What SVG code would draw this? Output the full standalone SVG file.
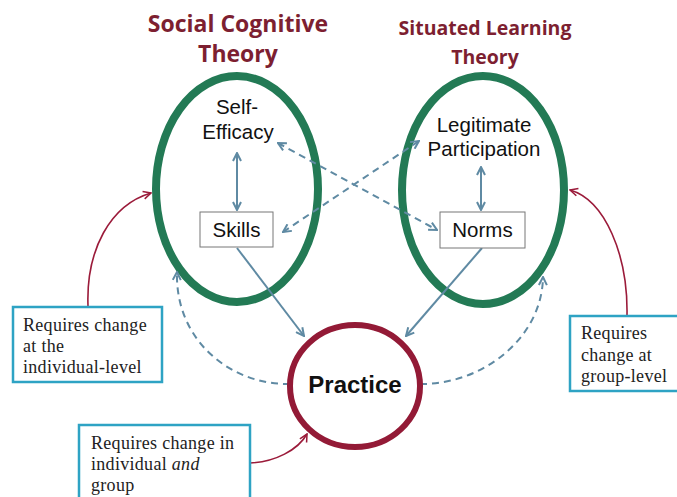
<svg xmlns="http://www.w3.org/2000/svg" width="677" height="497" viewBox="0 0 677 497">
<style>
.title{font-family:"Open Sans","Liberation Sans",sans-serif;font-weight:bold;fill:#7d1f31;text-anchor:middle}
.lbl{font-family:"Liberation Sans",Arial,sans-serif;font-size:20.5px;fill:#111;text-anchor:middle}
.note{font-family:"Liberation Serif","DejaVu Serif",serif;font-size:18px;letter-spacing:0.3px;fill:#222}
.theory{fill:none;stroke:#237a55;stroke-width:8}
.box{fill:#fff;stroke:#777;stroke-width:1}
.nbox{fill:#fff;stroke:#2ea3c4;stroke-width:2.5}
.conn{fill:none;stroke:#5f8aa3;stroke-width:2}
.dash{stroke-dasharray:7 5}
.red{fill:none;stroke:#9b1b3a;stroke-width:1.6}
</style>
<defs>
<marker id="ab" viewBox="0 0 10 10" refX="9" refY="5" markerWidth="5" markerHeight="5" orient="auto-start-reverse"><path d="M1 1 L9 5 L1 9" fill="none" stroke="#5f8aa3" stroke-width="2"/></marker>
<marker id="ar" viewBox="0 0 10 10" refX="9" refY="5" markerWidth="6" markerHeight="6" orient="auto"><path d="M1 1 L9 5 L1 9" fill="none" stroke="#9b1b3a" stroke-width="1.6"/></marker>
</defs>
<rect width="677" height="497" fill="#fff"/>
<g id="titles">
<text class="title" x="238" y="32" font-size="23">Social Cognitive</text>
<text class="title" x="238" y="62" font-size="23">Theory</text>
<text class="title" x="485" y="35" font-size="19.5">Situated Learning</text>
<text class="title" x="485" y="64" font-size="19.5">Theory</text>
</g>
<g id="social-cognitive">
<ellipse class="theory" cx="237" cy="189" rx="81" ry="113"/>
</g>
<g id="situated-learning">
<ellipse class="theory" cx="483" cy="190" rx="81" ry="114"/>
</g>
<g id="connectors">
<line class="conn" x1="237" y1="153" x2="237" y2="210" marker-start="url(#ab)" marker-end="url(#ab)"/>
<line class="conn" x1="481" y1="167" x2="481" y2="210" marker-start="url(#ab)" marker-end="url(#ab)"/>
<line class="conn dash" x1="278" y1="143" x2="437" y2="230" marker-start="url(#ab)" marker-end="url(#ab)"/>
<line class="conn dash" x1="283" y1="232" x2="419" y2="141" marker-start="url(#ab)" marker-end="url(#ab)"/>
<line class="conn" x1="237" y1="248" x2="304" y2="336" marker-end="url(#ab)"/>
<line class="conn" x1="482" y1="248" x2="406" y2="336" marker-end="url(#ab)"/>
<path class="conn dash" d="M290 384 C 230 385, 175 340, 177 272" marker-end="url(#ab)"/>
<path class="conn dash" d="M420 384 C 480 385, 542 340, 543 277" marker-end="url(#ab)"/>
<path class="red" d="M88 306 C 86 250, 110 205, 151 193" marker-end="url(#ar)"/>
<path class="red" d="M627 315 C 628 255, 605 200, 570 190" marker-end="url(#ar)"/>
<path class="red" d="M250 463 C 275 462, 298 450, 307 434" marker-end="url(#ar)"/>
</g>
<g id="self-efficacy">
<text class="lbl" x="237" y="114">Self-</text>
<text class="lbl" x="238" y="139">Efficacy</text>
</g>
<g id="legitimate-participation">
<text class="lbl" x="484" y="132">Legitimate</text>
<text class="lbl" x="484" y="156">Participation</text>
</g>
<g id="skills">
<rect class="box" x="200" y="212" width="73" height="35"/>
<text class="lbl" x="236.5" y="237">Skills</text>
</g>
<g id="norms">
<rect class="box" x="440" y="212" width="85" height="36"/>
<text class="lbl" x="482.5" y="237">Norms</text>
</g>
<g id="practice">
<ellipse cx="355" cy="386" rx="65" ry="61" fill="#fff" stroke="#931a36" stroke-width="6"/>
<text x="355" y="393" font-family="Liberation Sans,Arial,sans-serif" font-weight="bold" font-size="24" text-anchor="middle" fill="#111">Practice</text>
</g>
<g id="note-individual">
<rect class="nbox" x="13" y="307" width="149" height="75"/>
<text class="note" x="23" y="331">Requires change</text>
<text class="note" x="23" y="352">at the</text>
<text class="note" x="23" y="373">individual-level</text>
</g>
<g id="note-group">
<rect class="nbox" x="570" y="316" width="110" height="75"/>
<text class="note" x="581" y="339">Requires</text>
<text class="note" x="581" y="361">change at</text>
<text class="note" x="581" y="382">group-level</text>
</g>
<g id="note-both">
<rect class="nbox" x="79" y="425" width="171" height="80"/>
<text class="note" x="91" y="449">Requires change in</text>
<text class="note" x="91" y="470">individual <tspan font-style="italic">and</tspan></text>
<text class="note" x="91" y="491">group</text>
</g>
</svg>
